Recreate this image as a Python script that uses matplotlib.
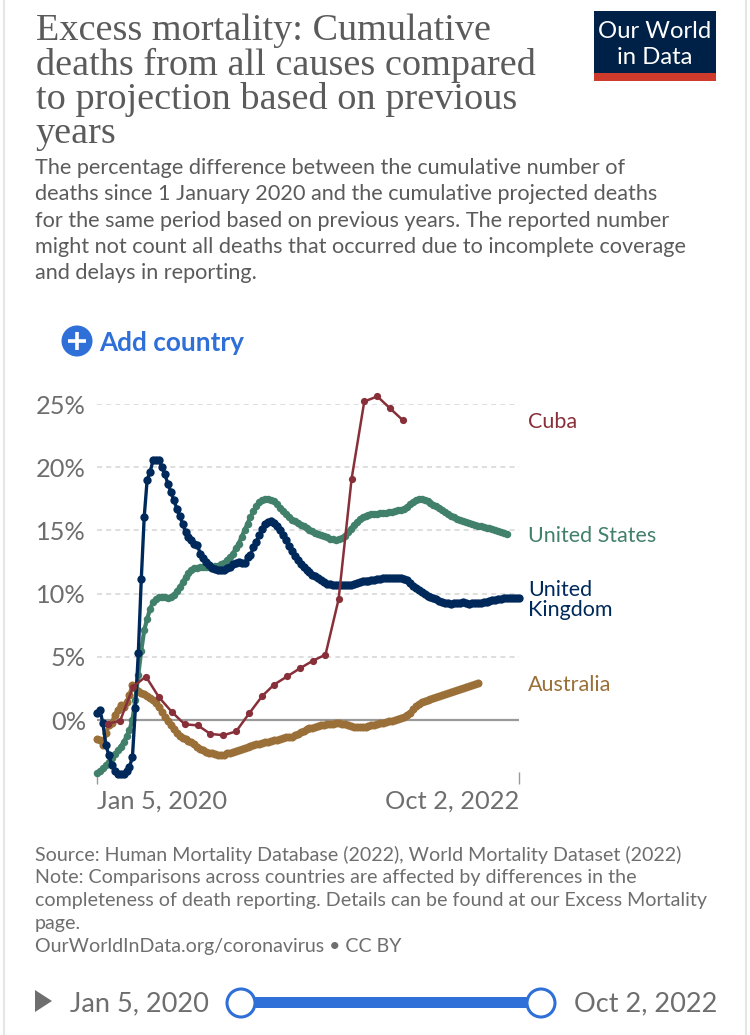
import pandas as pd
import matplotlib
matplotlib.use('Agg')
import matplotlib.pyplot as plt
from matplotlib.patches import Circle, Polygon, Rectangle

# Constants
W, H = 750, 1035
LATO = 'Lato'
GREY = '#6e6e6e'
BLUE = '#2f6fd8'

TITLE_LINES = ['Excess mortality: Cumulative', 'deaths from all causes compared',
               'to projection based on previous', 'years']
SUBTITLE_LINES = ['The percentage difference between the cumulative number of',
                  'deaths since 1 January 2020 and the cumulative projected deaths',
                  'for the same period based on previous years. The reported number',
                  'might not count all deaths that occurred due to incomplete coverage',
                  'and delays in reporting.']
FOOTER_LINES = ['Source: Human Mortality Database (2022), World Mortality Dataset (2022)',
                'Note: Comparisons across countries are affected by differences in the',
                'completeness of death reporting. Details can be found at our Excess Mortality',
                'page.',
                'OurWorldInData.org/coronavirus \u2022 CC BY']

Y_TICKS = [0, 5, 10, 15, 20, 25]
Y_LABELS = ['0%', '5%', '10%', '15%', '20%', '25%']
START_LABEL = 'Jan 5, 2020'
END_LABEL = 'Oct 2, 2022'

# Weekly values
uk = [0.53, 0.79, -0.26, -1.98, -2.77, -3.56, -4.0, -4.27, -4.27, -4.27,
      -4.0, -3.69, -2.95, 0.92, 5.32, 11.12, 16.07, 19.02, 19.63, 20.55,
      20.6, 20.55, 20.02, 19.44, 18.7, 18.05, 17.39, 16.73, 16.12, 15.54,
      14.88, 14.49, 14.23, 13.96, 13.83, 13.17, 12.78, 12.51, 12.25, 11.99,
      11.91, 11.85, 11.85, 11.85, 11.99, 12.12, 12.33, 12.43, 12.49, 12.43,
      12.43, 12.86, 13.04, 13.7, 14.09, 14.62, 15.15, 15.54, 15.67, 15.75,
      15.62, 15.36, 15.02, 14.62, 14.23, 13.78, 13.38, 12.96, 12.64, 12.38,
      12.12, 11.85, 11.72, 11.51, 11.38, 11.22, 11.06, 10.88, 10.8, 10.75,
      10.67, 10.67, 10.7, 10.72, 10.72, 10.7, 10.7, 10.75, 10.83, 10.91,
      10.96, 10.99, 11.01, 11.04, 11.06, 11.12, 11.17, 11.2, 11.22, 11.22,
      11.25, 11.25, 11.25, 11.22, 11.17, 11.06, 10.85, 10.64, 10.46, 10.27,
      10.12, 9.98, 9.85, 9.75, 9.62, 9.54, 9.43, 9.33, 9.27, 9.22,
      9.19, 9.22, 9.27, 9.25, 9.3, 9.27, 9.19, 9.22, 9.25, 9.27,
      9.27, 9.3, 9.33, 9.38, 9.46, 9.51, 9.56, 9.59, 9.62, 9.64,
      9.67, 9.67, 9.64, 9.62]

us = [-4.2, -4.0, -3.8, -3.55, -3.3, -3.0, -2.7, -2.4, -2.1, -1.75,
      -1.3, -0.8, 0.0, 1.6, 3.6, 5.5, 7.1, 8.0, 8.8, 9.35,
      9.56, 9.7, 9.7, 9.7, 9.67, 9.75, 9.88, 10.2, 10.5, 10.9,
      11.3, 11.6, 11.85, 12.0, 12.04, 12.07, 12.09, 12.09, 12.09, 12.12,
      12.17, 12.22, 12.33, 12.46, 12.64, 12.9, 13.17, 13.57, 13.96, 14.49,
      15.02, 15.54, 16.07, 16.5, 16.9, 17.25, 17.44, 17.49, 17.47, 17.44,
      17.31, 17.07, 16.8, 16.54, 16.28, 16.07, 15.86, 15.73, 15.6, 15.46,
      15.33, 15.2, 15.07, 14.94, 14.83, 14.73, 14.62, 14.52, 14.44, 14.36,
      14.3, 14.28, 14.3, 14.41, 14.59, 14.86, 15.15, 15.44, 15.67, 15.89,
      16.04, 16.17, 16.23, 16.28, 16.31, 16.33, 16.36, 16.39, 16.41, 16.44,
      16.49, 16.54, 16.6, 16.65, 16.73, 16.86, 17.07, 17.25, 17.39, 17.47,
      17.47, 17.41, 17.31, 17.18, 17.04, 16.91, 16.75, 16.6, 16.44, 16.28,
      16.15, 16.04, 15.91, 15.81, 15.73, 15.65, 15.57, 15.49, 15.44, 15.38,
      15.33, 15.28, 15.23, 15.17, 15.12, 15.07, 14.99, 14.91, 14.83, 14.73]

australia = [-1.53, -1.58, -1.98, -1.05, -0.42, -0.26, 0.4, 0.79, 1.19, 1.05,
             1.45, 1.98, 2.77, 2.5, 2.29, 2.16, 2.03, 1.9, 1.74, 1.58,
             1.37, 1.05, 0.66, 0.26, -0.05, -0.4, -0.71, -1.0, -1.24, -1.4,
             -1.53, -1.63, -1.77, -1.92, -2.11, -2.27, -2.4, -2.5, -2.58, -2.63,
             -2.69, -2.74, -2.77, -2.74, -2.63, -2.58, -2.53, -2.45, -2.37, -2.29,
             -2.21, -2.13, -2.05, -1.98, -1.92, -1.87, -1.82, -1.77, -1.71, -1.66,
             -1.61, -1.55, -1.5, -1.45, -1.37, -1.34, -1.32, -1.21, -1.08, -0.95,
             -0.84, -0.74, -0.66, -0.61, -0.53, -0.45, -0.4, -0.37, -0.34, -0.32,
             -0.29, -0.26, -0.26, -0.29, -0.34, -0.42, -0.5, -0.55, -0.58, -0.58,
             -0.55, -0.53, -0.47, -0.42, -0.37, -0.32, -0.26, -0.21, -0.16, -0.11,
             -0.05, 0.0, 0.08, 0.13, 0.21, 0.37, 0.58, 0.84, 1.08, 1.26,
             1.4, 1.5, 1.58, 1.66, 1.74, 1.82, 1.9, 1.98, 2.05, 2.13,
             2.24, 2.32, 2.4, 2.48, 2.56, 2.63, 2.71, 2.79, 2.87, 2.95]

# Monthly values
cuba = [-0.3, -0.05, 2.65, 3.44, 1.8, 0.66, -0.34, -0.42, -1.1, -1.2,
        -0.9, 0.53, 1.9, 2.8, 3.45, 4.08, 4.69, 5.17, 9.54, 19.1,
        25.2, 25.6, 24.66, 23.7]

weeks = pd.date_range('2020-01-05', periods=len(uk), freq='7D')
months = pd.date_range('2020-01-31', periods=len(cuba), freq='ME')

# name, dates, values, colour, line width, marker size, label y in pixels
SERIES = [
    ('Australia', weeks[:len(australia)], australia, '#9a7038', 3.0, 5.8, 685),
    ('United States', weeks[:len(us)], us, '#41806a', 3.0, 5.4, 536),
    ('United\nKingdom', weeks, uk, '#00295b', 2.4, 6.0, 600),
    ('Cuba', months, cuba, '#883039', 1.8, 5.2, 422),
]


def px_box(x0, y0, x1, y1):
    """Convert a pixel box (y from the top) to figure fractions."""
    return [x0 / W, 1 - y1 / H, (x1 - x0) / W, (y1 - y0) / H]


def draw_chrome(fig):
    """Draw everything around the chart: header, logo, footer and slider."""
    bg = fig.add_axes([0, 0, 1, 1], zorder=0)
    bg.set_xlim(0, W)
    bg.set_ylim(H, 0)
    bg.axis('off')

    # screenshot card edges
    bg.plot([4, 4], [0, H], color='#e6e6e6', lw=1.5)
    bg.plot([746, 746], [0, H], color='#e6e6e6', lw=1.5)

    for i, line in enumerate(TITLE_LINES):
        bg.text(36, 31 + i * 34.4, line, family='Liberation Serif', fontsize=27.5,
                color='#5b5b5b', va='center', ha='left')
    for i, line in enumerate(SUBTITLE_LINES):
        bg.text(35, 168 + i * 26.3, line, family=LATO, fontsize=15.55, color='#5b5b5b',
                va='center', ha='left')

    # logo
    bg.add_patch(Rectangle((594, 11), 122, 62, color='#002147', lw=0))
    bg.add_patch(Rectangle((594, 73), 122, 8, color='#ce3b2c', lw=0))
    bg.text(655, 32, 'Our World', family=LATO, fontsize=17.2, color='white', ha='center', va='center')
    bg.text(655, 58, 'in Data', family=LATO, fontsize=17.2, color='white', ha='center', va='center')

    # add country button
    bg.add_patch(Circle((77, 341), 15.5, color=BLUE, lw=0))
    bg.plot([68, 86], [341, 341], color='white', lw=2.6, solid_capstyle='butt')
    bg.plot([77, 77], [332, 350], color='white', lw=2.6, solid_capstyle='butt')
    bg.text(99, 343, 'Add country', family=LATO, fontweight='bold', fontsize=18.8, color=BLUE,
            ha='left', va='center')

    for i, line in enumerate(FOOTER_LINES):
        bg.text(35, 855 + i * 22.9, line, family=LATO, fontsize=14.15, color='#6e6e6e',
                va='center', ha='left')

    # time slider
    bg.add_patch(Polygon([(35, 990), (35, 1012), (52, 1001)], closed=True, color='#6e6e6e', lw=0,
                         joinstyle='round'))
    bg.text(70, 1004, START_LABEL, family=LATO, fontsize=19.5, color=GREY, ha='left', va='center')
    bg.text(574, 1004, END_LABEL, family=LATO, fontsize=19.5, color=GREY, ha='left', va='center')
    bg.add_patch(Rectangle((241, 997), 300, 11, color=BLUE, lw=0))
    for cx in (241, 541):
        bg.add_patch(Circle((cx, 1003), 14, facecolor='white', edgecolor=BLUE, lw=2.2, zorder=3))


def draw_chart(fig):
    """Draw the line chart itself."""
    ax = fig.add_axes(px_box(97, 404, 519, 784), zorder=1)
    ax.patch.set_alpha(0)
    for spine in ax.spines.values():
        spine.set_visible(False)

    ax.set_xlim(weeks[0], weeks[-1])
    ax.set_ylim(-5.06, 25)

    ax.set_yticks(Y_TICKS, Y_LABELS, family=LATO, fontsize=18.3, color=GREY)
    ax.tick_params(axis='y', length=0, pad=8)
    ax.set_xticks([weeks[0], weeks[-1]], [START_LABEL, END_LABEL], family=LATO, fontsize=18.3, color=GREY)
    ax.tick_params(axis='x', direction='in', length=9, width=1, color='#999999', pad=4)
    x_labels = ax.get_xticklabels()
    x_labels[0].set_ha('left')
    x_labels[1].set_ha('right')

    for tick in Y_TICKS[1:]:
        ax.axhline(tick, color='#d8d8d8', lw=1.2, ls=(0, (3, 2.5)), zorder=1)
    ax.axhline(0, color='#9a9a9a', lw=1.6, zorder=1)

    for z, (name, dates, values, colour, lw, ms, label_y) in enumerate(SERIES):
        ax.plot(dates, values, color=colour, lw=lw, marker='o', ms=ms, mew=0,
                zorder=3 + z, clip_on=False)
        fig.text(528 / W, 1 - label_y / H, name, family=LATO, fontsize=15.5, color=colour,
                 ha='left', va='center', linespacing=0.95)


def main():
    plt.rcParams['font.family'] = [LATO, 'DejaVu Sans']
    fig = plt.figure(figsize=(W / 100, H / 100), dpi=100, facecolor='white')
    draw_chrome(fig)
    draw_chart(fig)
    fig.savefig('out.png', dpi=100)


if __name__ == "__main__":
    main()
